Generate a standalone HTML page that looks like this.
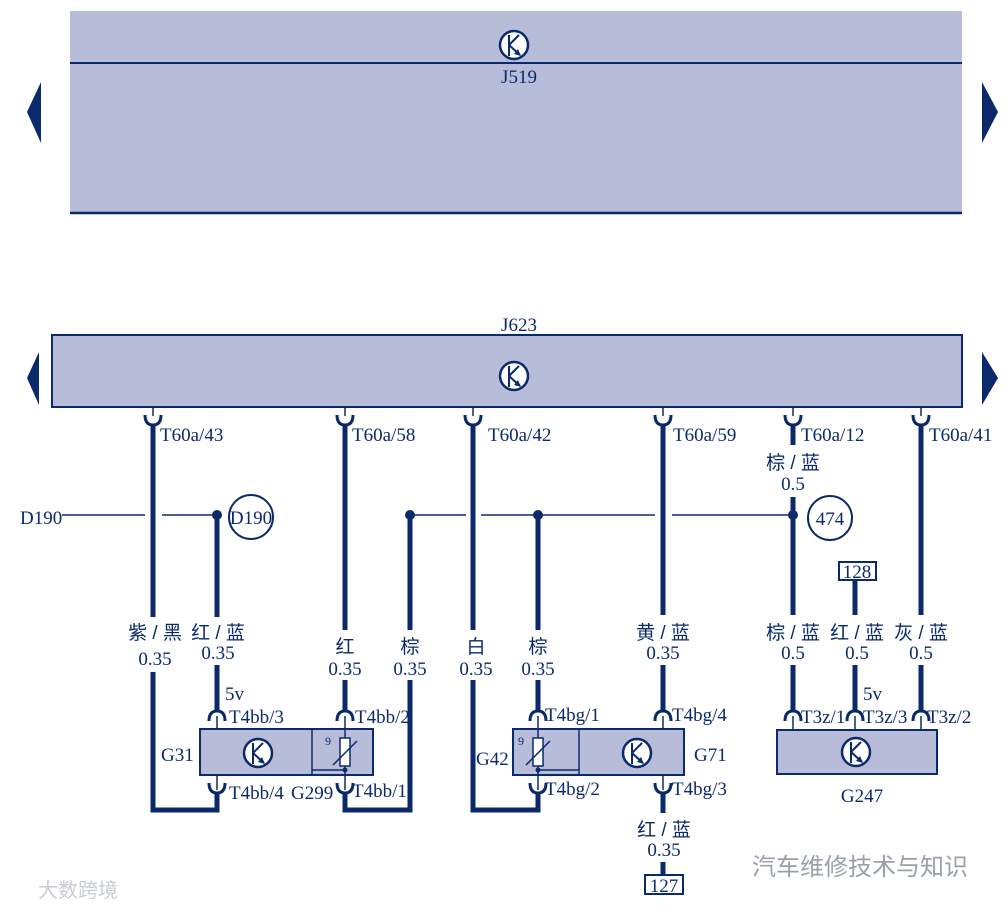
<!DOCTYPE html>
<html><head><meta charset="utf-8"><style>
body{margin:0;background:#fff}
svg{display:block}
text{font-family:"Liberation Serif","Noto Serif CJK SC",serif;fill:#0b2a6b;font-size:19px}
.c{font-family:"Liberation Sans","Noto Sans CJK SC",sans-serif;font-size:19px}
</style></head><body>
<svg width="1007" height="910" viewBox="0 0 1007 910" xmlns="http://www.w3.org/2000/svg">
<defs>
<g id="sym">
<circle r="14" fill="#fff" stroke="#0b2a6b" stroke-width="2.5"/>
<line x1="-5" y1="-10" x2="-5" y2="11" stroke="#0b2a6b" stroke-width="2"/>
<line x1="-5" y1="0" x2="5" y2="-10" stroke="#0b2a6b" stroke-width="2"/>
<line x1="-5" y1="0" x2="6" y2="10" stroke="#0b2a6b" stroke-width="2"/>
<path d="M7 11 L0 9 L4 4 Z" fill="#0b2a6b"/>
</g>
<path id="cu" d="M-8 -5 Q-8 5 0 5 Q8 5 8 -5" fill="none" stroke="#0b2a6b" stroke-width="3"/>
<path id="cd" d="M-8 5 Q-8 -5 0 -5 Q8 -5 8 5" fill="none" stroke="#0b2a6b" stroke-width="3"/>
</defs>
<g fill="#0b2a6b" stroke="none">
<polygon points="41,82 41,143 27,112"/>
<polygon points="982,82 982,143 998,112"/>
<polygon points="39,352 39,405 27,378"/>
<polygon points="982,352 982,405 998,378"/>
</g>
<rect x="70" y="11" width="892" height="202" fill="#b7bdd8"/>
<line x1="70" y1="63" x2="962" y2="63" stroke="#0b2a6b" stroke-width="2"/>
<line x1="70" y1="213" x2="962" y2="213" stroke="#0b2a6b" stroke-width="2.5"/>
<use href="#sym" x="514" y="45"/>
<text x="519" y="83" text-anchor="middle">J519</text>
<text x="519" y="331" text-anchor="middle">J623</text>
<rect x="52" y="335" width="910" height="72" fill="#b7bdd8" stroke="#0b2a6b" stroke-width="2"/>
<use href="#sym" x="514" y="376"/>

<g stroke="#0b2a6b" stroke-width="1.5" fill="none">
<line x1="62" y1="515" x2="145" y2="515"/>
<line x1="162" y1="515" x2="217" y2="515"/>
<line x1="410" y1="515" x2="466" y2="515"/>
<line x1="481" y1="515" x2="655" y2="515"/>
<line x1="672" y1="515" x2="793" y2="515"/>
</g>
<g stroke="#0b2a6b" stroke-width="1.5">
<line x1="153" y1="407" x2="153" y2="416"/><line x1="345" y1="407" x2="345" y2="416"/>
<line x1="473" y1="407" x2="473" y2="416"/><line x1="663" y1="407" x2="663" y2="416"/>
<line x1="793" y1="407" x2="793" y2="416"/><line x1="921" y1="407" x2="921" y2="416"/>
</g>
<g>
<use href="#cu" x="153" y="420"/><use href="#cu" x="345" y="420"/><use href="#cu" x="473" y="420"/>
<use href="#cu" x="663" y="420"/><use href="#cu" x="793" y="420"/><use href="#cu" x="921" y="420"/>
</g>
<g stroke="#0b2a6b" stroke-width="5" fill="none">
<path d="M153 424 V617 M153 672 V810 H217 V792"/>
<path d="M217 515 V617 M217 665 V712"/>
<path d="M345 424 V630 M345 680 V712 M345 792 V810 H410 V680 M410 630 V515"/>
<path d="M473 424 V630 M473 680 V810 H538 V792"/>
<path d="M538 515 V630 M538 680 V712"/>
<path d="M663 424 V615 M663 665 V712 M663 792 V813 M663 862 V875"/>
<path d="M793 424 V445 M793 497 V615 M793 665 V712"/>
<path d="M855 580 V615 M855 665 V712"/>
<path d="M921 424 V615 M921 665 V712"/>
</g>
<g fill="#0b2a6b">
<circle cx="217" cy="515" r="5"/><circle cx="410" cy="515" r="5"/>
<circle cx="538" cy="515" r="5"/><circle cx="793" cy="515" r="5"/>
</g>
<circle cx="251" cy="517" r="22" fill="#fff" stroke="#0b2a6b" stroke-width="2"/>
<text x="251" y="524" text-anchor="middle">D190</text>
<circle cx="830" cy="518" r="22" fill="#fff" stroke="#0b2a6b" stroke-width="2"/>
<text x="830" y="525" text-anchor="middle">474</text>
<text x="20" y="524">D190</text>

<text x="160" y="441">T60a/43</text><text x="352" y="441">T60a/58</text>
<text x="488" y="441">T60a/42</text><text x="673" y="441">T60a/59</text>
<text x="801" y="441">T60a/12</text><text x="929" y="441">T60a/41</text>

<g text-anchor="middle">
<text class="c" x="155" y="639">紫 / 黑</text><text x="155" y="665">0.35</text>
<text class="c" x="218" y="639">红 / 蓝</text><text x="218" y="659">0.35</text>
<text class="c" x="345" y="653">红</text><text x="345" y="675">0.35</text>
<text class="c" x="410" y="653">棕</text><text x="410" y="675">0.35</text>
<text class="c" x="476" y="653">白</text><text x="476" y="675">0.35</text>
<text class="c" x="538" y="653">棕</text><text x="538" y="675">0.35</text>
<text class="c" x="663" y="639">黄 / 蓝</text><text x="663" y="659">0.35</text>
<text class="c" x="793" y="469">棕 / 蓝</text><text x="793" y="490">0.5</text>
<text class="c" x="793" y="639">棕 / 蓝</text><text x="793" y="659">0.5</text>
<text class="c" x="857" y="639">红 / 蓝</text><text x="857" y="659">0.5</text>
<text class="c" x="921" y="639">灰 / 蓝</text><text x="921" y="659">0.5</text>
<text class="c" x="664" y="836">红 / 蓝</text><text x="664" y="856">0.35</text>
</g>
<text x="225" y="700">5v</text><text x="863" y="700">5v</text>

<rect x="839" y="562" width="37" height="18" fill="#fff" stroke="#0b2a6b" stroke-width="2"/>
<text x="857" y="578" text-anchor="middle">128</text>
<rect x="645" y="875" width="38" height="19" fill="#fff" stroke="#0b2a6b" stroke-width="2"/>
<text x="664" y="892" text-anchor="middle">127</text>

<g>
<use href="#cd" x="217" y="716"/><use href="#cd" x="345" y="716"/>
<use href="#cd" x="538" y="716"/><use href="#cd" x="663" y="716"/>
<use href="#cd" x="793" y="716"/><use href="#cd" x="855" y="716"/><use href="#cd" x="921" y="716"/>
<use href="#cu" x="217" y="788"/><use href="#cu" x="345" y="788"/>
<use href="#cu" x="538" y="788"/><use href="#cu" x="663" y="788"/>
</g>
<g stroke="#0b2a6b" stroke-width="1.5">
<path d="M217 716V729 M345 716V729 M538 716V729 M663 716V729 M793 716V730 M855 716V730 M921 716V730"/>
<path d="M217 775V790 M345 775V790 M538 775V790 M663 775V790"/>
</g>
<text x="229" y="723">T4bb/3</text><text x="355" y="723">T4bb/2</text>
<text x="229" y="799">T4bb/4</text><text x="291" y="799">G299</text><text x="352" y="797">T4bb/1</text>
<text x="545" y="721">T4bg/1</text><text x="672" y="721">T4bg/4</text>
<text x="545" y="795">T4bg/2</text><text x="672" y="795">T4bg/3</text>
<text x="801" y="723">T3z/1</text><text x="863" y="723">T3z/3</text><text x="927" y="723">T3z/2</text>

<rect x="200" y="729" width="173" height="46" fill="#b7bdd8" stroke="#0b2a6b" stroke-width="2"/>
<line x1="312" y1="729" x2="312" y2="775" stroke="#0b2a6b" stroke-width="1.5"/>
<use href="#sym" x="258" y="753"/>
<text x="161" y="761">G31</text>
<g stroke="#0b2a6b" stroke-width="1.5" fill="#fff">
<line x1="312" y1="770" x2="345" y2="770"/>
<line x1="345" y1="729" x2="345" y2="775"/>
<rect x="340" y="738" width="10" height="28"/>
<line x1="333" y1="765" x2="357" y2="741" fill="none"/>
</g>
<circle cx="345" cy="770" r="2.5" fill="#0b2a6b"/>
<text x="325" y="745" style="font-size:12px">9</text>
<rect x="513" y="729" width="171" height="46" fill="#b7bdd8" stroke="#0b2a6b" stroke-width="2"/>
<line x1="579" y1="729" x2="579" y2="775" stroke="#0b2a6b" stroke-width="1.5"/>
<use href="#sym" x="637" y="753"/>
<text x="476" y="765">G42</text><text x="694" y="761">G71</text>
<g stroke="#0b2a6b" stroke-width="1.5" fill="#fff">
<line x1="538" y1="770" x2="579" y2="770"/>
<line x1="538" y1="729" x2="538" y2="775"/>
<rect x="533" y="738" width="10" height="28"/>
<line x1="526" y1="765" x2="550" y2="741" fill="none"/>
</g>
<circle cx="538" cy="770" r="2.5" fill="#0b2a6b"/>
<text x="518" y="745" style="font-size:12px">9</text>
<rect x="777" y="730" width="160" height="44" fill="#b7bdd8" stroke="#0b2a6b" stroke-width="2"/>
<use href="#sym" x="856" y="752"/>
<text x="862" y="802" text-anchor="middle">G247</text>

<text class="c" x="752" y="875" style="fill:#9aa0a8;font-size:24px">汽车维修技术与知识</text>
<text class="c" x="38" y="897" style="fill:#c8ccd2;font-size:20px">大数跨境</text>
</svg>
</body></html>
